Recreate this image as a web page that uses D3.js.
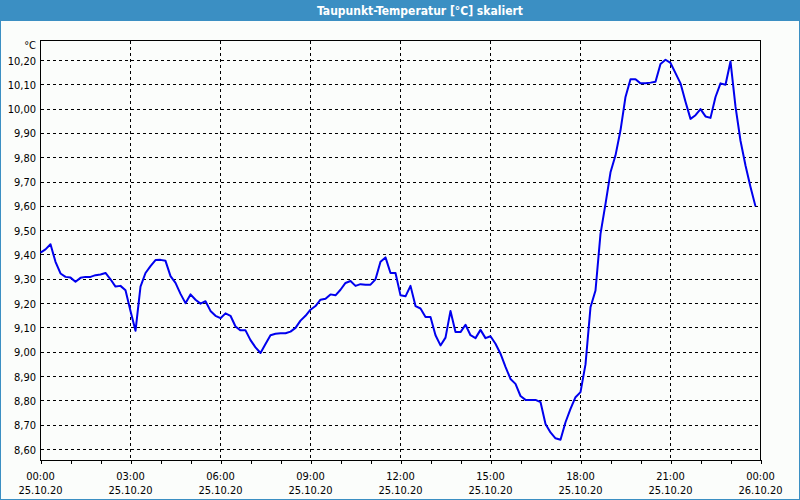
<!DOCTYPE html>
<html>
<head>
<meta charset="utf-8">
<script src="https://cdn.jsdelivr.net/npm/d3@7"></script>
<style>
  html, body { margin: 0; padding: 0; background: #fbfdfb; }
  svg { display: block; }
  text { font-family: "DejaVu Sans Condensed", "DejaVu Sans", sans-serif; }
</style>
</head>
<body>
<svg id="chart" width="800" height="500"></svg>
<script>
// ---- data ----
const chartTitle = "Taupunkt-Temperatur [°C] skaliert";
const unitLabel = "°C";
const startTime = "2020-10-25T00:00:00Z";
const endTime = "2020-10-26T00:00:00Z";
const stepMinutes = 10;
const dewPoint = [
  9.41, 9.423, 9.444, 9.372, 9.324, 9.31, 9.307, 9.29, 9.306, 9.31,
  9.31, 9.317, 9.32, 9.326, 9.30, 9.27, 9.273, 9.255, 9.17, 9.088,
  9.27, 9.326, 9.354, 9.379, 9.38, 9.376, 9.313, 9.285, 9.24, 9.202,
  9.238, 9.216, 9.20, 9.21, 9.17, 9.15, 9.14, 9.16, 9.15, 9.106,
  9.09, 9.09, 9.05, 9.02, 8.997, 9.034, 9.07, 9.076, 9.078, 9.078,
  9.085, 9.10, 9.13, 9.15, 9.175, 9.19, 9.216, 9.22, 9.238, 9.234,
  9.257, 9.285, 9.293, 9.273, 9.28, 9.278, 9.278, 9.30, 9.372, 9.39,
  9.326, 9.326, 9.234, 9.23, 9.273, 9.19, 9.18, 9.145, 9.145, 9.07,
  9.028, 9.06, 9.17, 9.083, 9.083, 9.113, 9.07, 9.058, 9.092, 9.058,
  9.066, 9.035, 8.994, 8.94, 8.89, 8.87, 8.82, 8.804, 8.804, 8.804,
  8.795, 8.705, 8.67, 8.646, 8.64, 8.712, 8.767, 8.815, 8.836, 8.95,
  9.185, 9.254, 9.487, 9.61, 9.74, 9.81, 9.913, 10.05, 10.123, 10.123,
  10.106, 10.106, 10.109, 10.113, 10.186, 10.203, 10.19, 10.148, 10.106, 10.03,
  9.96, 9.975, 10.0, 9.97, 9.964, 10.05, 10.106, 10.10, 10.196, 10.01,
  9.87, 9.768, 9.68, 9.60
];
const yTicks = [8.6, 8.7, 8.8, 8.9, 9.0, 9.1, 9.2, 9.3, 9.4, 9.5, 9.6, 9.7, 9.8, 9.9, 10.0, 10.1, 10.2];
const yDomain = [8.5547, 10.2823];
const majorTickHours = 3;
const minorTickHours = 1;

// ---- drawing ----
const W = 800, H = 500;
const svg = d3.select("#chart");
const t0 = new Date(startTime), t1 = new Date(endTime);
const points = dewPoint.map((v, i) => ({ t: new Date(t0.getTime() + i * stepMinutes * 60000), v }));

const x = d3.scaleUtc().domain([t0, t1]).range([40.5, 760.5]);
const y = d3.scaleLinear().domain(yDomain).range([460.5, 40.5]);

// background + outer frame
svg.append("rect").attr("x", 0).attr("y", 0).attr("width", W).attr("height", H).attr("fill", "#fbfdfb");
svg.append("rect").attr("x", 0.5).attr("y", 0.5).attr("width", W - 1).attr("height", H - 1)
  .attr("fill", "none").attr("stroke", "#3b8fc3").attr("stroke-width", 1);
// title bar
svg.append("rect").attr("x", 0).attr("y", 0).attr("width", W).attr("height", 21).attr("fill", "#3b8fc3");
svg.append("text").attr("x", 420).attr("y", 15).attr("text-anchor", "middle")
  .attr("fill", "#ffffff").attr("font-weight", "bold").attr("font-size", "12px")
  .text(chartTitle);

const dash = "3,3";
// horizontal grid
const gridG = svg.append("g").attr("shape-rendering", "crispEdges");
gridG.selectAll("line.hg").data(yTicks).join("line")
  .attr("class", "hg")
  .attr("x1", 40.5).attr("x2", 760.5)
  .attr("y1", d => Math.round(y(d) - 0.5) + 0.5).attr("y2", d => Math.round(y(d) - 0.5) + 0.5)
  .attr("stroke", "#000").attr("stroke-width", 1).attr("stroke-dasharray", dash);
// vertical grid
const majorTicks = x.ticks(d3.utcHour.every(majorTickHours));
gridG.selectAll("line.vg").data(majorTicks.slice(1, -1)).join("line")
  .attr("class", "vg")
  .attr("x1", d => x(d)).attr("x2", d => x(d))
  .attr("y1", 40.5).attr("y2", 460.5)
  .attr("stroke", "#000").attr("stroke-width", 1).attr("stroke-dasharray", dash);

// plot frame
svg.append("rect").attr("x", 40.5).attr("y", 40.5).attr("width", 720).attr("height", 420)
  .attr("fill", "none").attr("stroke", "#000").attr("stroke-width", 1).attr("shape-rendering", "crispEdges");

// x axis with hourly ticks
const fmtTime = d3.utcFormat("%H:%M");
const fmtDate = d3.utcFormat("%d.%m.%y");
const xAxis = d3.axisBottom(x)
  .ticks(d3.utcHour.every(minorTickHours))
  .tickSize(4)
  .tickFormat("");
const xg = svg.append("g").attr("transform", "translate(0,460)").call(xAxis);
xg.select(".domain").remove();
xg.selectAll("line").attr("stroke", "#000").attr("shape-rendering", "crispEdges");

const xl = svg.append("g");
majorTicks.forEach(d => {
  const g = xl.append("text").attr("x", x(d)).attr("text-anchor", "middle")
    .attr("font-size", "11px").attr("fill", "#000");
  g.append("tspan").attr("x", x(d)).attr("y", 480).text(fmtTime(d));
  g.append("tspan").attr("x", x(d)).attr("y", 494).text(fmtDate(d));
});

// y axis labels
const fmtY = v => d3.format(".2f")(v).replace(".", ",");
const yAxis = d3.axisLeft(y).tickValues(yTicks).tickSize(0).tickPadding(4).tickFormat(fmtY);
const yg = svg.append("g").attr("transform", "translate(40,0)").call(yAxis);
yg.select(".domain").remove();
yg.selectAll("text").attr("font-size", "11px").attr("fill", "#000")
  .attr("font-family", "\"DejaVu Sans Condensed\", \"DejaVu Sans\", sans-serif");

svg.append("text").attr("x", 36).attr("y", 49).attr("text-anchor", "end")
  .attr("font-size", "11px").attr("fill", "#000").text(unitLabel);

// data line
const line = d3.line().x(d => x(d.t)).y(d => y(d.v));
svg.append("path").datum(points).attr("d", line)
  .attr("fill", "none").attr("stroke", "#0000ee").attr("stroke-width", 2)
  .attr("stroke-linejoin", "round");
</script>
</body>
</html>
